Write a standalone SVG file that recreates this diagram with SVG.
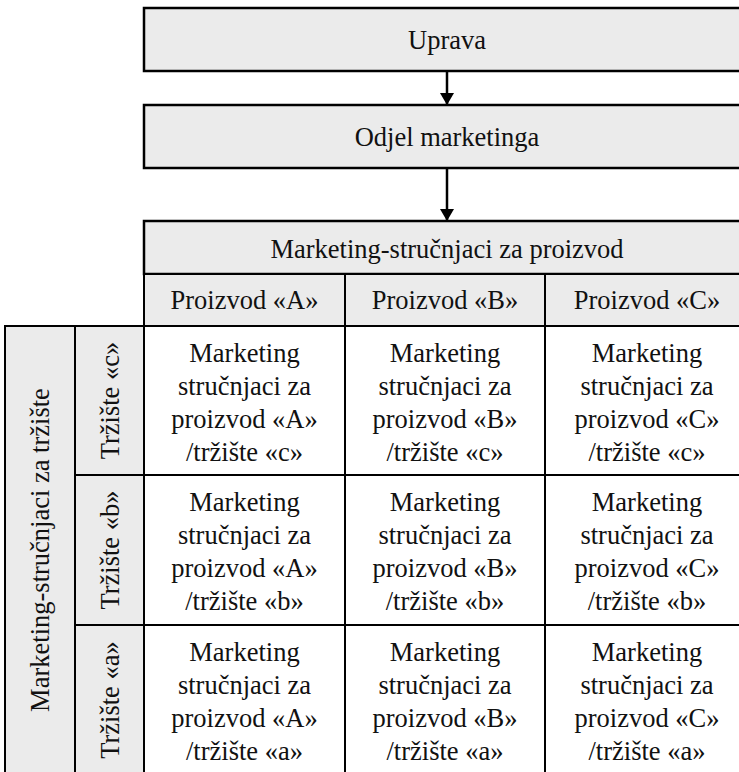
<svg xmlns="http://www.w3.org/2000/svg" width="739" height="772" viewBox="0 0 739 772">
<defs>
<style>
.box{fill:#ebebeb;stroke:#000;stroke-width:2.5}
.grey{fill:#ebebeb;stroke:#000;stroke-width:2}
.cell{fill:#fff;stroke:#000;stroke-width:2}
text{font-family:'Liberation Serif',Tinos,'Times New Roman',Times,'DejaVu Serif',serif;font-size:26.5px;fill:#111;text-anchor:middle}
.conn{stroke:#000;stroke-width:2.5;fill:none}
</style>
<marker id="ah" viewBox="0 0 12 14" refX="12" refY="7" markerWidth="12" markerHeight="14" markerUnits="userSpaceOnUse" orient="auto">
<path d="M0,0 L12,7 L0,14 Z" fill="#000"/>
</marker>
</defs>
<rect width="739" height="772" fill="#fff"/>
<g id="uprava"><rect class="box" x="144" y="8" width="620" height="63"/><text x="447" y="49">Uprava</text></g>
<g id="odjel"><rect class="box" x="144" y="105" width="620" height="63"/><text x="447" y="146">Odjel marketinga</text></g>
<g id="header-proizvod"><rect class="box" x="144" y="221" width="620" height="53"/><text x="447" y="258">Marketing-stručnjaci za proizvod</text></g>
<g id="proizvod-a"><rect class="grey" x="144" y="274" width="201" height="52"/><text x="244.5" y="309">Proizvod «A»</text></g>
<g id="proizvod-b"><rect class="grey" x="345" y="274" width="200" height="52"/><text x="445" y="309">Proizvod «B»</text></g>
<g id="proizvod-c"><rect class="grey" x="545" y="274" width="220" height="52"/><text x="647" y="309">Proizvod «C»</text></g>
<g id="header-trziste"><rect class="grey" x="5" y="326" width="70" height="460"/><text transform="translate(49,550) rotate(-90)">Marketing-stručnjaci za tržište</text></g>
<g id="trziste-c"><rect class="grey" x="75" y="326" width="69" height="149"/><text transform="translate(119,400.5) rotate(-90)">Tržište «c»</text></g>
<g id="trziste-b"><rect class="grey" x="75" y="475" width="69" height="150"/><text transform="translate(119,550) rotate(-90)">Tržište «b»</text></g>
<g id="trziste-a"><rect class="grey" x="75" y="625" width="69" height="160"/><text transform="translate(119,700) rotate(-90)">Tržište «a»</text></g>
<g id="cell-a-c"><rect class="cell" x="144" y="326" width="201" height="149"/><text x="244.5" y="362">Marketing</text><text x="244.5" y="395">stručnjaci za</text><text x="244.5" y="428">proizvod «A»</text><text x="244.5" y="461">/tržište «c»</text></g>
<g id="cell-b-c"><rect class="cell" x="345" y="326" width="200" height="149"/><text x="445" y="362">Marketing</text><text x="445" y="395">stručnjaci za</text><text x="445" y="428">proizvod «B»</text><text x="445" y="461">/tržište «c»</text></g>
<g id="cell-c-c"><rect class="cell" x="545" y="326" width="220" height="149"/><text x="647" y="362">Marketing</text><text x="647" y="395">stručnjaci za</text><text x="647" y="428">proizvod «C»</text><text x="647" y="461">/tržište «c»</text></g>
<g id="cell-a-b"><rect class="cell" x="144" y="475" width="201" height="150"/><text x="244.5" y="511">Marketing</text><text x="244.5" y="544">stručnjaci za</text><text x="244.5" y="577">proizvod «A»</text><text x="244.5" y="610">/tržište «b»</text></g>
<g id="cell-b-b"><rect class="cell" x="345" y="475" width="200" height="150"/><text x="445" y="511">Marketing</text><text x="445" y="544">stručnjaci za</text><text x="445" y="577">proizvod «B»</text><text x="445" y="610">/tržište «b»</text></g>
<g id="cell-c-b"><rect class="cell" x="545" y="475" width="220" height="150"/><text x="647" y="511">Marketing</text><text x="647" y="544">stručnjaci za</text><text x="647" y="577">proizvod «C»</text><text x="647" y="610">/tržište «b»</text></g>
<g id="cell-a-a"><rect class="cell" x="144" y="625" width="201" height="160"/><text x="244.5" y="661">Marketing</text><text x="244.5" y="694">stručnjaci za</text><text x="244.5" y="727">proizvod «A»</text><text x="244.5" y="760">/tržište «a»</text></g>
<g id="cell-b-a"><rect class="cell" x="345" y="625" width="200" height="160"/><text x="445" y="661">Marketing</text><text x="445" y="694">stručnjaci za</text><text x="445" y="727">proizvod «B»</text><text x="445" y="760">/tržište «a»</text></g>
<g id="cell-c-a"><rect class="cell" x="545" y="625" width="220" height="160"/><text x="647" y="661">Marketing</text><text x="647" y="694">stručnjaci za</text><text x="647" y="727">proizvod «C»</text><text x="647" y="760">/tržište «a»</text></g>
<g id="connectors">
<line class="conn" x1="447" y1="71" x2="447" y2="105" marker-end="url(#ah)"/>
<line class="conn" x1="447" y1="168" x2="447" y2="221" marker-end="url(#ah)"/>
</g>
</svg>
